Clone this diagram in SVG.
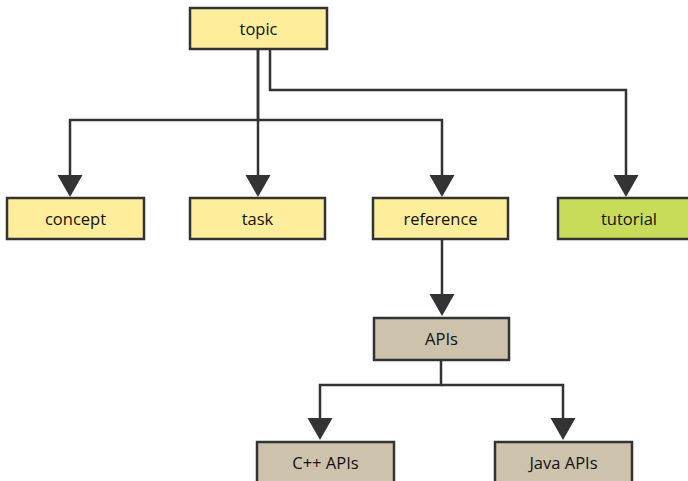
<svg xmlns="http://www.w3.org/2000/svg" width="688" height="481" viewBox="0 0 688 481">
<defs>
<style>
.box{stroke:#333;stroke-width:2.5}
.y{fill:#feed9b}
.t{fill:#cdc2ab}
.g{fill:#c9dc5a}
.lbl{font-family:"Open Sans","Noto Sans",sans-serif;font-size:16.5px;fill:#111;text-anchor:middle}
.c{fill:none;stroke:#333;stroke-width:2.5;marker-end:url(#ah)}
</style>
<marker id="ah" markerUnits="userSpaceOnUse" markerWidth="23" markerHeight="26" refX="0" refY="12.5" orient="auto" viewBox="0 0 23 26">
<path d="M0,0 L22,12.5 L0,25 Z" fill="#333"/>
</marker>
</defs>
<rect width="688" height="481" fill="#fff"/>
<g id="connectors">
<path class="c" d="M258,49 V120 H70 V175"/>
<path class="c" d="M258,49 V175"/>
<path class="c" d="M258,120 H442 V175"/>
<path class="c" d="M270,49 V90 H626 V175"/>
<path class="c" d="M442,239 V294"/>
<path class="c" d="M441,360 V385 H320 V418"/>
<path class="c" d="M441,385 H563 V418"/>
</g>
<g id="topic"><rect class="box y" x="190" y="8" width="137" height="41"/><text class="lbl" x="258.5" y="34.5">topic</text></g>
<g id="concept"><rect class="box y" x="7" y="198" width="137" height="41"/><text class="lbl" x="75.5" y="224.5">concept</text></g>
<g id="task"><rect class="box y" x="190" y="198" width="135" height="41"/><text class="lbl" x="257.5" y="224.5">task</text></g>
<g id="reference"><rect class="box y" x="373" y="198" width="135" height="41"/><text class="lbl" x="440.5" y="224.5">reference</text></g>
<g id="tutorial"><rect class="box g" x="558" y="198" width="137" height="41"/><text class="lbl" x="629" y="224.5">tutorial</text></g>
<g id="apis"><rect class="box t" x="374" y="318" width="135" height="42"/><text class="lbl" x="441.5" y="344.5">APIs</text></g>
<g id="cpp-apis"><rect class="box t" x="257" y="442" width="137" height="42"/><text class="lbl" x="325.5" y="468.5">C++ APIs</text></g>
<g id="java-apis"><rect class="box t" x="495" y="442" width="137" height="42"/><text class="lbl" x="563.5" y="468.5">Java APIs</text></g>
</svg>
